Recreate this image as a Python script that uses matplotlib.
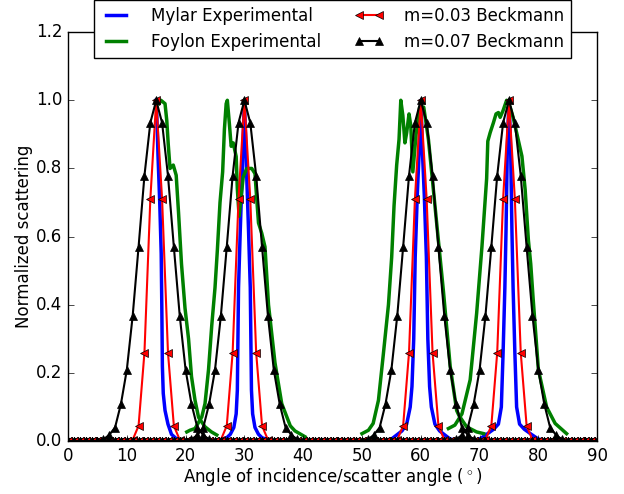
import numpy as np
import matplotlib
matplotlib.use("Agg")
import matplotlib.pyplot as plt

# ============================================================
# Normalized specular scattering: Mylar / Foylon measurements
# against Beckmann model curves (m = 0.03 and m = 0.07)
# ============================================================

plt.style.use("classic")

# ------------------------------------------------------------
# Measured data (read from the figure)
# ------------------------------------------------------------

# Mylar, peak at 15 deg (only the side above the specular angle)
mylar_15_angle = [15.0, 15.15, 15.3, 15.6, 15.85, 15.95, 16.05, 16.2,
                  16.5, 17.0, 17.6, 18.5, 20.0, 23.0]
mylar_15_value = [1.0, 0.93, 0.84, 0.7, 0.55, 0.4, 0.22, 0.14,
                  0.09, 0.05, 0.02, 0.006, 0.002, 0.0]

mylar_30_angle = [24.0, 26.0, 27.0, 27.6, 28.2, 28.6, 28.8, 28.9, 29.0,
                  29.3, 29.65, 29.85, 30.0, 30.15, 30.35, 30.7, 31.0,
                  31.1, 31.2, 31.4, 31.8, 32.4, 33.0, 34.0, 36.0]
mylar_30_value = [0.0, 0.004, 0.01, 0.02, 0.04, 0.08, 0.15, 0.3, 0.45,
                  0.62, 0.8, 0.92, 1.0, 0.92, 0.8, 0.62, 0.45,
                  0.3, 0.15, 0.08, 0.04, 0.02, 0.01, 0.004, 0.0]

mylar_60_angle = [53.0, 55.0, 56.8, 57.6, 58.2, 58.5, 58.8, 59.05, 59.4,
                  59.7, 59.85, 60.0, 60.15, 60.3, 60.6, 60.95, 61.2,
                  61.5, 61.8, 62.4, 63.2, 65.0, 67.0]
mylar_60_value = [0.0, 0.006, 0.03, 0.05, 0.1, 0.16, 0.3, 0.54, 0.72,
                  0.84, 0.93, 1.0, 0.93, 0.84, 0.72, 0.54, 0.3,
                  0.16, 0.1, 0.05, 0.03, 0.006, 0.0]

mylar_75_angle = [68.0, 70.0, 71.2, 72.4, 73.2, 73.7, 74.0, 74.3, 74.5,
                  74.7, 74.85, 75.0, 75.15, 75.3, 75.5, 75.7, 76.0,
                  76.3, 76.8, 77.6, 78.8, 80.0, 82.0]
mylar_75_value = [0.0, 0.006, 0.02, 0.035, 0.05, 0.1, 0.26, 0.45, 0.62,
                  0.84, 0.93, 1.0, 0.93, 0.84, 0.62, 0.45, 0.26,
                  0.1, 0.05, 0.035, 0.02, 0.006, 0.0]

# Foylon, peak at 15 deg
foylon_15_angle = [15.5, 15.8, 16.5, 16.8, 17.05, 17.35, 17.9, 18.4,
                   18.8, 19.3, 19.9, 20.5, 21.0, 21.6, 22.2, 23.3,
                   24.4, 25.3]
foylon_15_value = [0.99, 1.0, 0.99, 0.94, 0.87, 0.8, 0.81, 0.78,
                   0.67, 0.52, 0.39, 0.3, 0.19, 0.12, 0.07, 0.042,
                   0.027, 0.018]

foylon_30_angle = [20.2, 20.75, 21.6, 22.75, 23.3, 23.9, 24.45, 25.0,
                   25.4, 25.85, 26.3, 26.6, 26.9, 27.1, 27.45, 27.75,
                   28.1, 28.6, 28.8, 29.1, 29.4, 29.8, 30.4, 31.25,
                   31.8, 32.1, 32.4, 32.95, 33.5, 34.1, 35.2, 36.35,
                   37.8, 38.6, 40.3]
foylon_30_value = [0.027, 0.032, 0.037, 0.071, 0.11, 0.21, 0.34, 0.45,
                   0.56, 0.7, 0.79, 0.915, 0.99, 1.0, 0.93, 0.865,
                   0.875, 0.835, 0.74, 0.66, 0.71, 0.775, 0.8, 0.8,
                   0.785, 0.71, 0.64, 0.61, 0.57, 0.4, 0.23, 0.11,
                   0.045, 0.03, 0.013]

foylon_60_angle = [50.0, 51.1, 51.9, 52.8, 53.6, 54.5, 55.05, 55.45,
                   55.9, 56.3, 56.6, 56.95, 57.3, 57.6, 58.0, 58.3,
                   58.65, 59.2, 59.8, 60.5, 61.3, 62.7, 63.85, 65.0,
                   66.1, 66.5, 67.8, 69.5, 70.7]
foylon_60_value = [0.022, 0.032, 0.052, 0.12, 0.25, 0.4, 0.54, 0.69,
                   0.81, 0.885, 1.0, 0.955, 0.875, 0.905, 0.96, 0.925,
                   0.79, 0.9, 0.98, 0.98, 0.885, 0.64, 0.44, 0.22,
                   0.09, 0.075, 0.042, 0.027, 0.022]

foylon_75_angle = [64.7, 65.8, 67.0, 68.4, 69.5, 70.4, 71.2, 71.4,
                   71.8, 72.35, 72.8, 73.2, 73.5, 74.0, 74.6, 75.2,
                   75.7, 76.3, 77.2, 77.75, 78.3, 78.7, 79.1, 80.0,
                   81.4, 82.85, 84.8]
foylon_75_value = [0.037, 0.047, 0.08, 0.18, 0.375, 0.57, 0.77, 0.88,
                   0.905, 0.934, 0.96, 0.964, 0.95, 0.97, 1.0, 0.98,
                   0.95, 0.905, 0.836, 0.738, 0.59, 0.52, 0.42, 0.21,
                   0.1, 0.052, 0.022]

# ------------------------------------------------------------
# Beckmann model curves, one per specular angle
# ------------------------------------------------------------

peak_angles = [15, 30, 60, 75]

angle_grid = list(range(0, 91))

beck_offsets = [-10, -9, -8, -7, -6, -5, -4, -3, -2, -1, 0,
                1, 2, 3, 4, 5, 6, 7, 8, 9, 10]

m003_profile = [0.0, 0.0, 0.0, 0.0, 0.0, 0.0, 0.004, 0.045, 0.26, 0.71, 1.0,
                0.71, 0.26, 0.045, 0.004, 0.0, 0.0, 0.0, 0.0, 0.0, 0.0]

m007_profile = [0.001, 0.005, 0.018, 0.04, 0.109, 0.209, 0.368, 0.57, 0.779,
                0.934, 1.0, 0.934, 0.779, 0.57, 0.368, 0.209, 0.109, 0.04,
                0.018, 0.005, 0.001]


def beckmann_curve(peak, profile):
    lookup = dict(zip(beck_offsets, profile))
    return [lookup.get(a - peak, 0.0) for a in angle_grid]


mylar_sets = [
    (mylar_15_angle, mylar_15_value),
    (mylar_30_angle, mylar_30_value),
    (mylar_60_angle, mylar_60_value),
    (mylar_75_angle, mylar_75_value),
]

foylon_sets = [
    (foylon_15_angle, foylon_15_value),
    (foylon_30_angle, foylon_30_value),
    (foylon_60_angle, foylon_60_value),
    (foylon_75_angle, foylon_75_value),
]

# ============================================================
# Figure
# ============================================================

fig = plt.figure(figsize=(6.24, 4.94), dpi=100)

ax = fig.add_axes([0.109, 0.107, 0.848, 0.828])

for i, (a, v) in enumerate(mylar_sets):
    ax.plot(a, v, color="b", lw=2.5,
            label="Mylar Experimental" if i == 0 else None)

for i, (a, v) in enumerate(foylon_sets):
    ax.plot(a, v, color="g", lw=2.5,
            label="Foylon Experimental" if i == 0 else None)

for i, p in enumerate(peak_angles):
    ax.plot(angle_grid, beckmann_curve(p, m003_profile),
            color="r", lw=1.5, marker="<", markersize=6,
            markerfacecolor="r", markeredgecolor="k",
            label="m=0.03 Beckmann" if i == 0 else None)

for i, p in enumerate(peak_angles):
    ax.plot(angle_grid, beckmann_curve(p, m007_profile),
            color="k", lw=1.5, marker="^", markersize=6,
            markerfacecolor="k", markeredgecolor="k",
            label="m=0.07 Beckmann" if i == 0 else None)

ax.set_xlim(0, 90)
ax.set_ylim(0, 1.2)

ax.set_xlabel(r"Angle of incidence/scatter angle ($^\circ$)", labelpad=1)
ax.set_ylabel("Normalized scattering", labelpad=2)

ax.legend(
    loc="upper center",
    bbox_to_anchor=(0.5, 1.078),
    ncol=2,
    fontsize=12,
    numpoints=2,
    handlelength=1.8,
    handletextpad=1.2,
    borderaxespad=0.0,
)

fig.savefig("out.png", dpi=100)
